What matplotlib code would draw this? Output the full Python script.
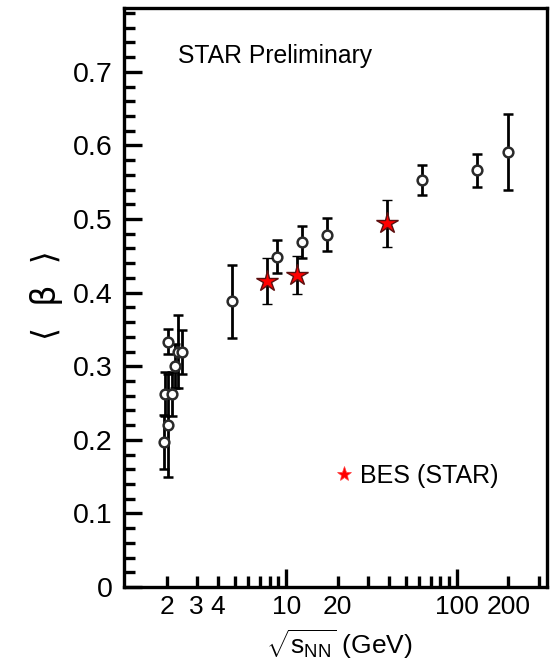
import matplotlib
matplotlib.use("Agg")
import matplotlib.pyplot as plt
from matplotlib.ticker import FixedLocator, FuncFormatter, MultipleLocator
from matplotlib.lines import Line2D

# ---- data ----
energy_other = [1.94, 1.96, 2.04, 2.04, 2.15, 2.24, 2.34, 2.45,
                4.8, 8.8, 12.3, 17.3, 62.4, 130.0, 200.0]
beta_other = [0.197, 0.262, 0.220, 0.333, 0.262, 0.300, 0.320, 0.319,
              0.388, 0.449, 0.469, 0.479, 0.553, 0.566, 0.591]
err_other = [0.037, 0.030, 0.070, 0.017, 0.030, 0.030, 0.050, 0.030,
             0.049, 0.022, 0.022, 0.022, 0.020, 0.022, 0.052]

energy_bes = [7.7, 11.5, 39.0]
beta_bes = [0.416, 0.424, 0.494]
err_bes = [0.031, 0.026, 0.032]

xtick_labels = {2: "2", 3: "3", 4: "4", 10: "10", 20: "20", 100: "100", 200: "200"}
ytick_values = [0, 0.1, 0.2, 0.3, 0.4, 0.5, 0.6, 0.7]
ytick_labels = ["0", "0.1", "0.2", "0.3", "0.4", "0.5", "0.6", "0.7"]

FONT = ["Liberation Sans", "DejaVu Sans"]
plt.rcParams["font.family"] = FONT
plt.rcParams["mathtext.fontset"] = "custom"
plt.rcParams["mathtext.rm"] = "Liberation Sans"
plt.rcParams["mathtext.it"] = "Liberation Sans"

fig = plt.figure(figsize=(5.56, 6.71), dpi=100)
ax = fig.add_axes([124 / 556, 1 - 587 / 671, 423 / 556, 579.5 / 671])
ax.set_xscale("log")
ax.set_xlim(1.125, 336)
ax.set_ylim(0, 0.7875)

ax.errorbar(energy_other, beta_other, yerr=err_other, fmt="o", ms=7,
            mfc="white", mec="#2a2a2a", mew=1.8, ecolor="black",
            elinewidth=2.0, capsize=3.5, capthick=2.5, zorder=3)
ax.errorbar(energy_bes, beta_bes, yerr=err_bes, fmt="*", ms=16,
            mfc="#ff0000", mec="#5a1010", mew=1.0, ecolor="black",
            elinewidth=2.0, capsize=3.5, capthick=2.5, zorder=4)

# ticks
ax.xaxis.set_major_locator(FixedLocator([10, 100]))
minor = [v * d for d in (1, 10, 100) for v in range(2, 10)]
ax.xaxis.set_minor_locator(FixedLocator(minor))
fmt = FuncFormatter(lambda v, p: xtick_labels.get(int(round(v)), "") if abs(v - round(v)) < 1e-6 else "")
ax.xaxis.set_major_formatter(fmt)
ax.xaxis.set_minor_formatter(fmt)
ax.set_yticks(ytick_values)
ax.set_yticklabels(ytick_labels)
ax.yaxis.set_minor_locator(MultipleLocator(0.02))

ax.tick_params(axis="both", which="both", direction="in", top=False, right=False,
               width=2.4)
ax.tick_params(axis="x", which="both", labelsize=19, pad=6)
ax.tick_params(axis="y", which="both", labelsize=20.5, pad=8)
ax.tick_params(axis="both", which="major", length=13)
ax.tick_params(axis="both", which="minor", length=8)
for s in ax.spines.values():
    s.set_linewidth(2.4)

ax.set_xlabel(r"$\sqrt{\mathrm{s}_{\mathrm{NN}}}$ (GeV)", fontsize=19)
ax.xaxis.set_label_coords(0.51, -0.07)
ax.set_ylabel("⟨  β  ⟩", fontsize=24, family=["DejaVu Sans"])
ax.yaxis.set_label_coords(-0.145, 0.504)

ax.text((178 - 124) / 423, (587 - 63) / 579.5, "STAR Preliminary",
        fontsize=17.8, transform=ax.transAxes, ha="left", va="baseline")

handle = Line2D([], [], linestyle="none", marker="*", ms=11, mfc="#ff0000",
                mec="#ff4040", mew=0.5)
ax.legend([handle], ["BES (STAR)"], loc="center left",
          bbox_to_anchor=((336 - 124) / 423, (587 - 476) / 579.5),
          frameon=False, fontsize=18, handlelength=0.6, handletextpad=0.35,
          borderaxespad=0, borderpad=0)

fig.savefig("out.png", dpi=100)
